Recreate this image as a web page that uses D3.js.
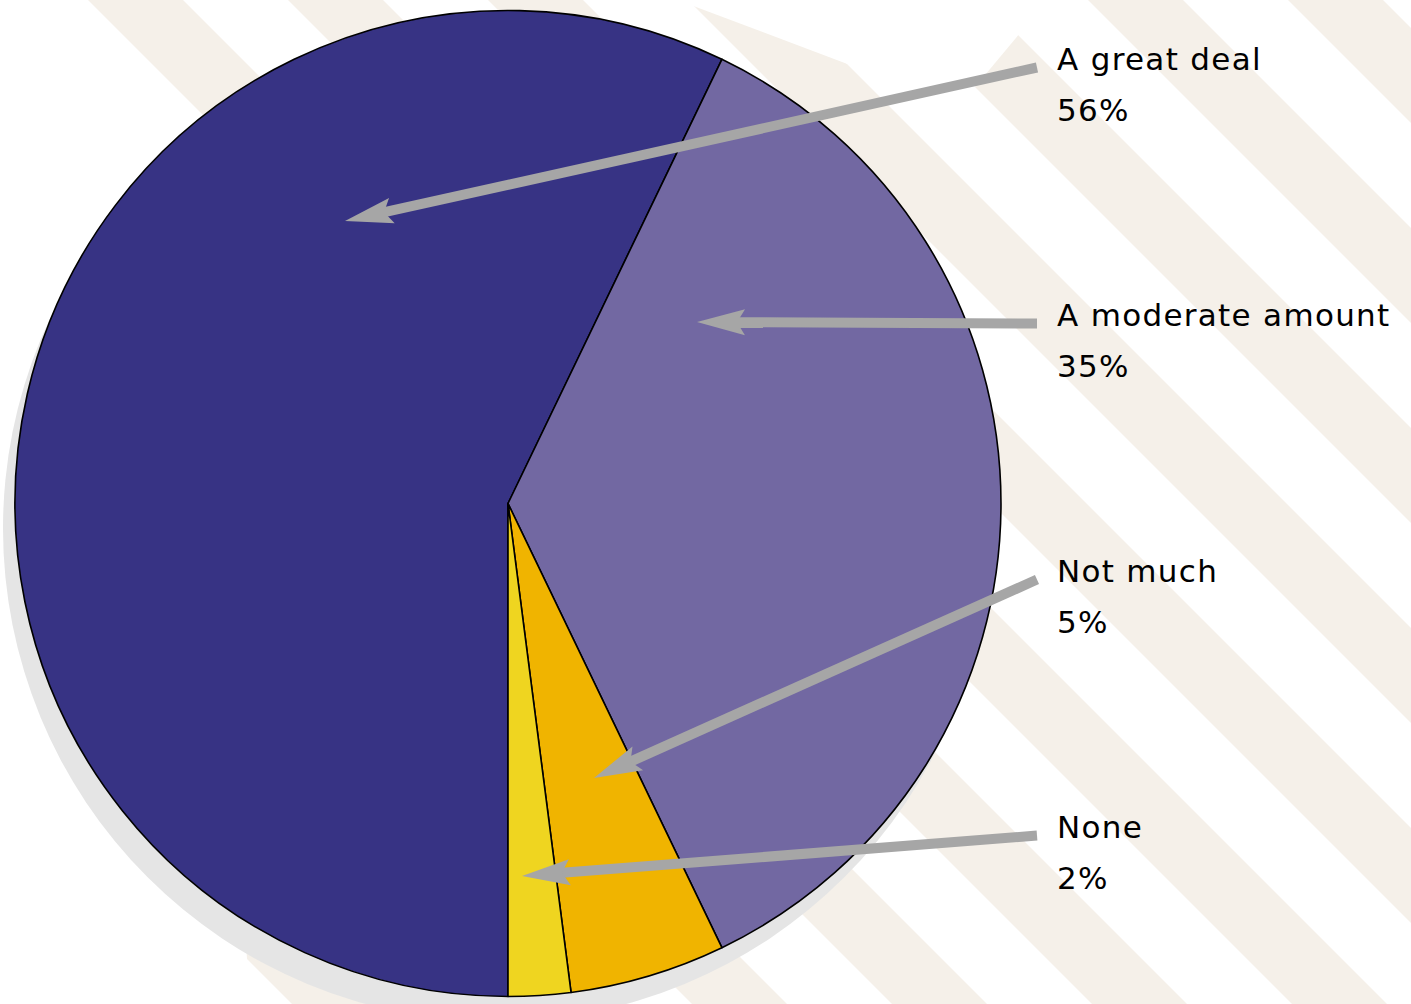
<!DOCTYPE html>
<html>
<head>
<meta charset="utf-8">
<script src="https://cdn.jsdelivr.net/npm/d3@7"></script>
<style>
  html, body { margin: 0; padding: 0; background: #ffffff; }
  svg { display: block; }
</style>
</head>
<body>
<svg id="chart" width="1411" height="1004"></svg>
<script>
// ---- data ----
const categories = ["A great deal", "A moderate amount", "Not much", "None"];
const values = [56, 35, 5, 2];
const valueLabels = ["56%", "35%", "5%", "2%"];
const sliceColors = ["#373384", "#7268a2", "#f0b400", "#efd520"];

// ---- layout (annotation geometry, not data) ----
const W = 1411, H = 1004;
const cx = 508, cy = 503.5, R = 493;
const arrowTips = [[345, 221], [697, 322], [594, 778], [522, 876]];
const arrowStartX = 1037;
const labelX = 1057;

const svg = d3.select("#chart");

// ---- background stripes ----
const bg = svg.append("g");
const clip = svg.append("defs").append("clipPath").attr("id", "stripeClip");
clip.append("polygon").attr("points", [[85,0],[W,0],[W,H],[250,H],[200,250]].map(p => p.join(",")).join(" "));
const stripeG = bg.append("g").attr("clip-path", "url(#stripeClip)");
const period = 200, c0 = 88, band = 95;
const bands = d3.range(-8, 8);
stripeG.selectAll("polygon.stripe").data(bands).join("polygon")
  .attr("class", "stripe")
  .attr("fill", "#f5f0e9")
  .attr("points", n => {
    const c = c0 + n * period;
    return [[c, 0], [c + band, 0], [c + band + H, H], [c + H, H]].map(p => p.join(",")).join(" ");
  });
// white cut-outs at the top of two stripes
bg.append("polygon").attr("fill", "#ffffff")
  .attr("points", "686,0 876,0 850,65 688,4");
bg.append("polygon").attr("fill", "#ffffff")
  .attr("points", "885,0 1000,0 1020,33 975,87 860,60");

// ---- pie ----
const pie = d3.pie().sort(null).startAngle(Math.PI).endAngle(3 * Math.PI);
const arcs = pie(values);
const arc = d3.arc().innerRadius(0).outerRadius(R);

// shadow
svg.append("circle")
  .attr("cx", cx - 12).attr("cy", cy + 25).attr("r", R)
  .attr("fill", "#e5e5e5");

const pieG = svg.append("g").attr("transform", `translate(${cx},${cy})`);
pieG.selectAll("path.slice").data(arcs).join("path")
  .attr("class", "slice")
  .attr("d", arc)
  .attr("fill", (d, i) => sliceColors[i])
  .attr("stroke", "#000000")
  .attr("stroke-width", 1.6)
  .attr("stroke-linejoin", "round");

// ---- labels ----
const yLabel = d3.scalePoint().domain(categories).range([70, 838]);

const labG = svg.append("g")
  .attr("font-family", "'DejaVu Sans', Verdana, sans-serif")
  .attr("font-size", 31)
  .attr("fill", "#000000");
labG.selectAll("text.cat").data(categories).join("text")
  .attr("class", "cat")
  .attr("x", labelX).attr("y", d => yLabel(d))
  .attr("letter-spacing", 1.3)
  .text(d => d);
labG.selectAll("text.val").data(categories).join("text")
  .attr("class", "val")
  .attr("x", labelX).attr("y", d => yLabel(d) + 51)
  .attr("letter-spacing", 1.3)
  .text((d, i) => valueLabels[i]);

// ---- arrows ----
const arrowG = svg.append("g");
const L = 48, HW = 13, N = 8;
categories.forEach((cat, i) => {
  const sx = arrowStartX, sy = yLabel(cat) - 2.5;
  const [tx, ty] = arrowTips[i];
  const dx = tx - sx, dy = ty - sy, len = Math.hypot(dx, dy);
  const ux = dx / len, uy = dy / len;
  const nx = -uy, ny = ux;
  const bx = tx - ux * L, by = ty - uy * L;
  const nX = tx - ux * (L - N), nY = ty - uy * (L - N);
  arrowG.append("line")
    .attr("x1", sx).attr("y1", sy)
    .attr("x2", tx - ux * (L - N - 3)).attr("y2", ty - uy * (L - N - 3))
    .attr("stroke", "#a6a6a6").attr("stroke-width", 10);
  const p = d3.path();
  p.moveTo(tx, ty);
  p.lineTo(bx + nx * HW, by + ny * HW);
  p.lineTo(nX, nY);
  p.lineTo(bx - nx * HW, by - ny * HW);
  p.closePath();
  arrowG.append("path").attr("d", p.toString()).attr("fill", "#a6a6a6");
});
</script>
</body>
</html>
